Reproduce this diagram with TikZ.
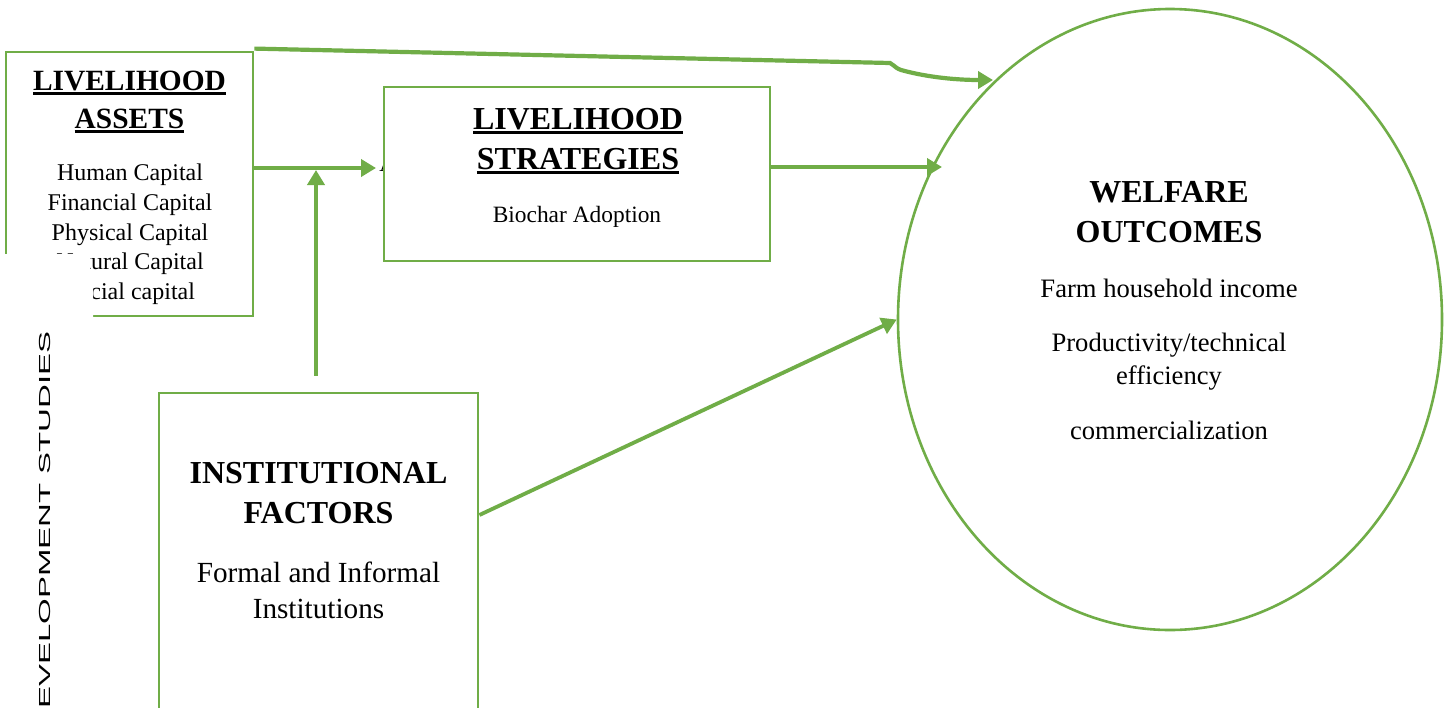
\documentclass[tikz,border=0pt]{standalone}
\usepackage{fontspec}
\usepackage{graphicx}
\setmainfont{Liberation Serif}
\newfontfamily\sidefont{Liberation Sans}
\usetikzlibrary{arrows.meta,shapes.geometric}
\definecolor{lgreen}{HTML}{70AD47}
\newcommand\ulword[1]{\setbox0=\hbox{#1}\rlap{\rule[-2.4pt]{\wd0}{1.3pt}}\box0}
\begin{document}
\begin{tikzpicture}[x=0.5pt,y=-0.5pt,
  box/.style={draw=lgreen, line width=1.4pt, fill=white, rectangle, inner sep=0},
  arr/.style={draw=lgreen, line width=1.9pt, -{Triangle[length=7.5pt,width=8.5pt]}},
  txt/.style={anchor=base, inner sep=0},
  ttl/.style={txt, font=\fontsize{16}{19}\selectfont\bfseries},
  ttlsmall/.style={txt, font=\fontsize{14.7}{18}\selectfont\bfseries},
  item/.style={txt, font=\fontsize{12}{14}\selectfont},
  itemw/.style={txt, font=\fontsize{13.3}{16}\selectfont},
  itemi/.style={txt, font=\fontsize{14.6}{17}\selectfont}]
\useasboundingbox (0,0) rectangle (1445,707);
\fill[white] (0,0) rectangle (1445,707);

% ---- livelihood assets ----
\node[box, minimum width=123.5pt, minimum height=132pt] (assets) at (129.5,184) {};
\node[ttlsmall] (at1) at (129.5,90) {\ulword{LIVELIHOOD}};
\node[ttlsmall] (at2) at (129.5,128) {\ulword{ASSETS}};
\node[item] (ai1) at (130,180) {Human Capital};
\node[item] (ai2) at (130,210) {Financial Capital};
\node[item] (ai3) at (130,240) {Physical Capital};
\node[item] (ai4) at (130,269) {Natural Capital};
\node[item] (ai5) at (130,299) {Social capital};
\fill[white] (0,254) -- (90,254) -- (90,284) -- (93,284) -- (93,330) -- (0,330) -- cycle;

% fragment of hidden text
\node[txt, anchor=base west, font=\fontsize{12}{14}\selectfont] (frag) at (379,171) {A};

% ---- livelihood strategies ----
\node[box, minimum width=193pt, minimum height=87pt] (strat) at (577,174) {};
\node[ttl] (st1) at (578,129) {\ulword{LIVELIHOOD}};
\node[ttl] (st2) at (578,169) {\ulword{STRATEGIES}};
\node[txt, font=\fontsize{11.7}{14}\selectfont] (st3) at (577,222) {Biochar Adoption};

% ---- institutional factors ----
\node[box, minimum width=159.5pt, minimum height=183.5pt] (inst) at (318.5,576.5) {};
\node[ttl] (in1) at (318.5,483) {INSTITUTIONAL};
\node[ttl] (in2) at (318.5,523) {FACTORS};
\node[itemi] (in3) at (318.5,582) {Formal and Informal};
\node[itemi] (in4) at (318.5,618) {Institutions};

% ---- welfare outcomes ----
\node[ellipse, draw=lgreen, line width=1.3pt, minimum width=272pt, minimum height=310.5pt, inner sep=0] (welfare) at (1170,319.5) {};
\node[ttl] (w1) at (1169,202) {WELFARE};
\node[ttl] (w2) at (1169,242) {OUTCOMES};
\node[itemw] (w3) at (1169,297) {Farm household income};
\node[itemw] (w4) at (1169,351) {Productivity/technical};
\node[itemw] (w5) at (1169,384) {efficiency};
\node[itemw] (w6) at (1169,439) {commercialization};

% ---- side text ----
\node[rotate=90, inner sep=0] (side) at (45,520) {\scalebox{2.06}[1]{\sidefont\fontsize{8}{8}\selectfont EVELOPMENT STUDIES}};

% ---- connectors ----
\coordinate (s_in) at (376,168);
\coordinate (w_in0) at (993,80);
\coordinate (w_in1) at (942,167);

\draw[arr] (assets.east |- s_in) -- (s_in);
\draw[arr] ([yshift=8pt]inst.north -| 316,0) -- (316,170);
\draw[arr] (strat.east |- w_in1) -- (w_in1);
\draw[arr, line width=2.1pt] ([yshift=1pt]assets.north east) -- (890,63)
  .. controls (894,64) and (893,67) .. (901,70)
  .. controls (930,78) and (960,80) .. (w_in0);
\draw[arr] ([yshift=30.75pt]inst.east) -- (welfare.west);
\end{tikzpicture}
\end{document}
